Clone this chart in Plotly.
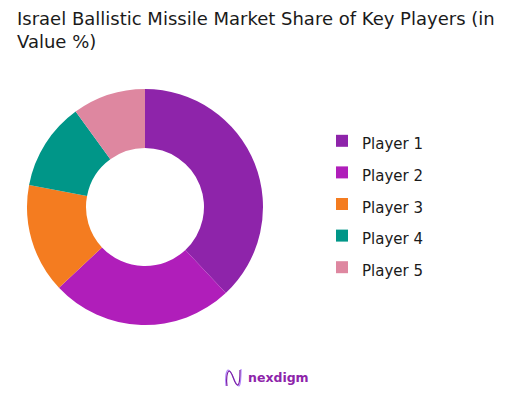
import plotly.graph_objects as go

players = ["Player 1", "Player 2", "Player 3", "Player 4", "Player 5"]
shares = [38, 25, 15, 12, 10]
colors = ["#8E24AA", "#B01EBA", "#F47C20", "#009688", "#DE87A0"]

# page body has an 8px margin; work in viewport pixels and convert
OFF = 8
W, H = 519 - OFF, 399 - OFF


def px(x):
    return (x - OFF) / W


def py(y):
    return 1 - (y - OFF) / H


cx, cy, r = 145, 207, 118

labels_fmt = [f"<span style='font-size:15px'>{p}</span>" for p in players]

fig = go.Figure(go.Pie(
    labels=labels_fmt,
    values=shares,
    hole=0.5,
    sort=False,
    direction="clockwise",
    rotation=0,
    marker=dict(colors=colors, line=dict(width=0)),
    textinfo="none",
    hoverinfo="label+percent",
    domain=dict(x=[px(cx - r), px(cx + r)], y=[py(cy + r), py(cy - r)]),
))

logo_light = f"M{px(226):.5f},{py(386):.5f} C{px(225):.5f},{py(378):.5f} {px(226):.5f},{py(371):.5f} {px(228):.5f},{py(370):.5f} C{px(232):.5f},{py(369):.5f} {px(235):.5f},{py(387):.5f} {px(239):.5f},{py(386):.5f} C{px(241):.5f},{py(385):.5f} {px(241):.5f},{py(376):.5f} {px(241):.5f},{py(369):.5f}"
logo_dark = f"M{px(227):.5f},{py(386):.5f} C{px(226):.5f},{py(379):.5f} {px(227):.5f},{py(372):.5f} {px(229):.5f},{py(371):.5f} C{px(233):.5f},{py(371):.5f} {px(234):.5f},{py(386):.5f} {px(238):.5f},{py(385):.5f} C{px(240):.5f},{py(384):.5f} {px(240):.5f},{py(377):.5f} {px(240):.5f},{py(370):.5f}"

fig.update_layout(
    width=W, height=H,
    margin=dict(l=0, r=0, t=0, b=0),
    paper_bgcolor="white",
    font=dict(family="DejaVu Sans", color="#1a1a1a"),
    legend=dict(
        x=px(322), xanchor="left",
        y=py(204), yanchor="middle",
        font=dict(size=22, color="#1a1a1a", family="DejaVu Sans"),
        itemwidth=30,
        bgcolor="rgba(0,0,0,0)",
    ),
    shapes=[
        dict(type="path", path=logo_light, xref="paper", yref="paper",
             line=dict(color="#B388FF", width=1.2)),
        dict(type="path", path=logo_dark, xref="paper", yref="paper",
             line=dict(color="#7B1FA2", width=1.2)),
    ],
    annotations=[
        dict(
            text="Israel Ballistic Missile Market Share of Key Players (in<br>Value %)",
            x=px(15), y=py(6), xref="paper", yref="paper",
            xanchor="left", yanchor="top", align="left", showarrow=False,
            font=dict(size=18, color="#1a1a1a", family="DejaVu Sans"),
        ),
        dict(
            text="<b>nexdigm</b>", x=px(246), y=py(377), xref="paper", yref="paper",
            xanchor="left", yanchor="middle", showarrow=False,
            font=dict(size=12.5, color="#8E24AA", family="DejaVu Sans"),
        ),
    ],
)

fig.write_html("out.html")
